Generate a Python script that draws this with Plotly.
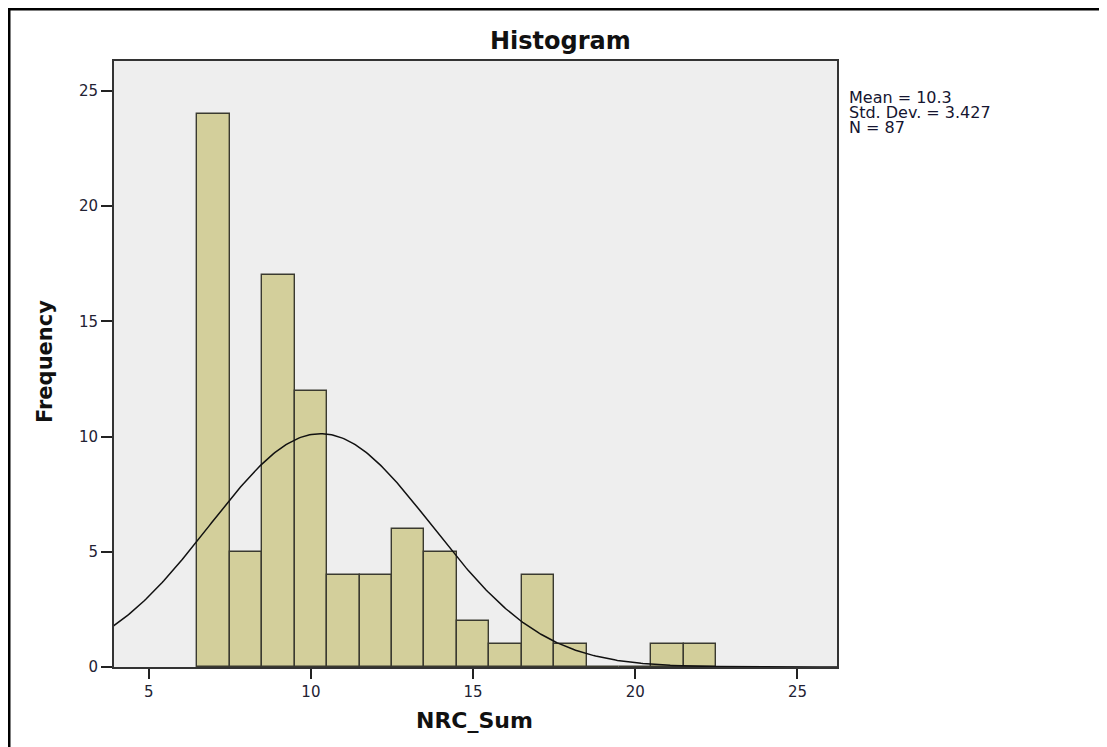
import numpy as np
import plotly.graph_objects as go

# Data
bin_centers = [7, 8, 9, 10, 11, 12, 13, 14, 15, 16, 17, 18, 19, 20, 21, 22]
frequencies = [24, 5, 17, 12, 4, 4, 6, 5, 2, 1, 4, 1, 0, 0, 1, 1]
mean_val = 10.3
std_val = 3.427
n_val = 87
x_ticks = [5, 10, 15, 20, 25]
y_ticks = [0, 5, 10, 15, 20, 25]
stat_lines = [f"Mean = {mean_val}", f"Std. Dev. = {std_val}", f"N = {n_val}"]

# page offset (browser body margin) is 8px; figure coords = screen - 8
W, H = 1099, 739
L, T = 106, 53
PR, PB = 829, 659  # plot right / bottom in figure px
R, B = W - PR, H - PB
pw, ph = PR - L, PB - T

def px_x(p):
    return (p - L) / pw

def px_y(p):
    return (PB - p) / ph

fig = go.Figure()
fig.add_trace(go.Bar(
    x=bin_centers, y=frequencies, width=1,
    marker=dict(color="#d3cf9b", line=dict(color="#3a3a30", width=1.4)),
    showlegend=False,
))

xs = np.linspace(3.9, 26.3, 400)
ys = n_val / (std_val * np.sqrt(2 * np.pi)) * np.exp(-0.5 * ((xs - mean_val) / std_val) ** 2)
fig.add_trace(go.Scatter(x=xs, y=ys, mode="lines", line=dict(color="#111111", width=1.5),
                         showlegend=False))

# outer frame
fig.add_shape(type="rect", xref="paper", yref="paper",
              x0=px_x(1), x1=px_x(1200), y0=px_y(900), y1=px_y(1),
              line=dict(color="black", width=3), layer="above")

for i, s in enumerate(stat_lines):
    fig.add_annotation(xref="paper", yref="paper", x=px_x(839), y=px_y(89 + 15.5 * i),
                       xanchor="left", yanchor="middle", showarrow=False, text=s,
                       font=dict(family="DejaVu Sans", size=16, color="#151530"))

# titles
fig.add_annotation(xref="paper", yref="paper", x=px_x(552), y=px_y(33),
                   xanchor="center", yanchor="middle", showarrow=False,
                   text="<b>Histogram</b>",
                   font=dict(family="DejaVu Sans", size=24, color="#111111"))
fig.add_annotation(xref="paper", yref="paper", x=px_x(466), y=px_y(712),
                   xanchor="center", yanchor="middle", showarrow=False,
                   text="<b>NRC_Sum</b>",
                   font=dict(family="DejaVu Sans", size=22, color="#111111"))
fig.add_annotation(xref="paper", yref="paper", x=px_x(37), y=px_y(354),
                   xanchor="center", yanchor="middle", showarrow=False, textangle=-90,
                   text="<b>Frequency</b>",
                   font=dict(family="DejaVu Sans", size=21, color="#111111"))

fig.update_layout(
    width=W, height=H,
    margin=dict(l=L, r=R, t=T, b=B),
    paper_bgcolor="white", plot_bgcolor="#eeeeee",
    bargap=0,
    font=dict(family="DejaVu Sans", size=15, color="#222233"),
)
fig.update_xaxes(range=[3.93, 26.22], tickvals=x_ticks, ticks="outside", ticklen=10,
                 tickcolor="#222222", tickwidth=1.5, showgrid=False, zeroline=False,
                 showline=True, linecolor="#333333", linewidth=1.8, mirror=True)
fig.update_yaxes(range=[0, 26.3], tickvals=y_ticks, ticks="outside", ticklen=11,
                 tickcolor="#222222", tickwidth=1.5, showgrid=False, zeroline=False,
                 showline=True, linecolor="#333333", linewidth=1.8, mirror=True)

fig.write_html("out.html")
